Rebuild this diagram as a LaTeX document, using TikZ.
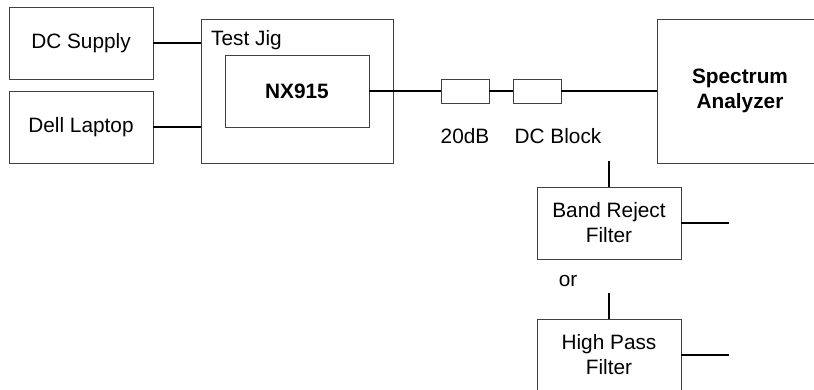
\documentclass[tikz,border=0pt]{standalone}
\usepackage{fontspec}
\setmainfont{Liberation Sans}
\begin{document}
\begin{tikzpicture}[x=1pt,y=-1pt,
  box/.style={draw=black!75,line width=0.9pt,inner sep=0pt,align=center,
    font=\fontsize{20.8}{25}\selectfont},
  wire/.style={line width=1.6pt,black},
  lbl/.style={inner sep=0pt,font=\fontsize{20.8}{25}\selectfont}]
\useasboundingbox (0,0) rectangle (814,390);
\clip (0,0) rectangle (814,390);
\node[box,minimum width=144pt,minimum height=72pt] (dc) at (81,43) {DC Supply};
\node[box,minimum width=144pt,minimum height=72pt] (dell) at (81,127) {Dell Laptop};
\node[box,minimum width=192pt,minimum height=144pt] (jig) at (297,91) {};
\node[lbl,anchor=west] (jiglbl) at (211,40) {Test Jig};
\node[box,minimum width=144pt,minimum height=72pt,font=\fontsize{20.8}{25}\selectfont\bfseries] (nx) at (297,91) {NX915};
\node[box,minimum width=48pt,minimum height=24pt] (att) at (465,91) {};
\node[box,minimum width=48pt,minimum height=24pt] (blk) at (537,91) {};
\node[lbl] (attlbl) at (465,136) {20dB};
\node[lbl] (blklbl) at (558,136) {DC Block};
\node[box,minimum width=166pt,minimum height=144pt,font=\fontsize{20.8}{25}\selectfont\bfseries] (sa) at (740,91) {Spectrum\\Analyzer};
\node[box,minimum width=144pt,minimum height=72pt] (br) at (609,223) {Band Reject\\Filter};
\node[lbl] (or) at (568,281) {or};
\node[box,minimum width=144pt,minimum height=72pt] (hp) at (609,355) {High Pass\\Filter};
\coordinate (brtop) at (609,161);
\coordinate (hptop) at (609,293);
\coordinate (brout) at (729,223);
\coordinate (hpout) at (729,355);
\draw[wire] (dc.east) -- (dc.east -| jig.west);
\draw[wire] (dell.east) -- (dell.east -| jig.west);
\draw[wire] (nx.east) -- (att.west);
\draw[wire] (att.east) -- (blk.west);
\draw[wire] (blk.east) -- (sa.west);
\draw[wire] (brtop) -- (br.north);
\draw[wire] (hptop) -- (hp.north);
\draw[wire] (br.east) -- (brout);
\draw[wire] (hp.east) -- (hpout);
\end{tikzpicture}
\end{document}
